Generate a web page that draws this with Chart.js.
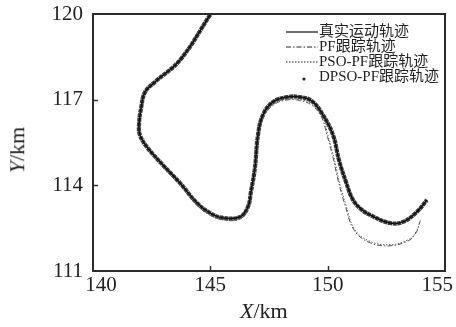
<!DOCTYPE html>
<html><head><meta charset="utf-8">
<script src="https://cdn.jsdelivr.net/npm/chart.js@4/dist/chart.umd.min.js"></script>
<style>
html,body{margin:0;padding:0;background:#fff;}
#wrap{position:relative;width:456px;height:327px;overflow:hidden;}
canvas{display:block;}
.ttl{position:absolute;font:22px "Liberation Serif","Times New Roman",serif;color:#222;white-space:nowrap;line-height:22px;}
</style>
</head><body>
<div id="wrap">
<canvas id="c" width="456" height="327"></canvas>
<div class="ttl" id="xt" style="left:240px;top:300px;"><i>X</i>/km</div>
<div class="ttl" id="yt" style="left:-6px;top:139px;transform:rotate(-90deg);transform-origin:center;"><i>Y</i>/km</div>
</div>
<script>
const xTicks = [140, 145, 150, 155];
const yTicks = [111, 114, 117, 120];
const seriesNames = ['真实运动轨迹', 'PF跟踪轨迹', 'PSO-PF跟踪轨迹', 'DPSO-PF跟踪轨迹'];

const trueX = [145.00,143.71,142.64,142.22,142.05,141.96,142.00,142.30,142.98,143.71,144.43,144.99,145.54,146.26,146.60,146.73,146.90,147.03,147.24,147.67,148.27,148.82,149.33,149.80,150.23,150.48,150.78,151.08,151.46,151.89,152.65,153.21,153.80,154.23];
const trueY = [119.98,118.39,117.62,117.27,116.71,116.11,115.76,115.34,114.71,114.08,113.38,113.03,112.86,112.89,113.24,113.77,114.61,115.76,116.46,116.92,117.09,117.09,116.95,116.46,115.76,114.89,114.12,113.49,113.14,112.93,112.68,112.72,113.07,113.49];

const pfX = [145.00,143.71,142.64,142.22,142.05,141.96,142.00,142.30,142.98,143.71,144.43,144.99,145.54,146.26,146.62,146.75,146.92,147.05,147.27,147.70,148.27,148.82,149.33,149.74,149.97,150.23,150.44,150.74,151.12,151.72,152.57,153.42,153.76,153.93];
const pfY = [119.98,118.39,117.62,117.27,116.71,116.11,115.76,115.34,114.71,114.08,113.31,112.95,112.79,112.82,113.20,113.77,114.61,115.76,116.40,116.82,116.99,116.97,116.80,116.38,115.76,114.96,114.19,113.31,112.44,112.02,111.88,112.05,112.33,112.72];

const psoX = [145.00,143.71,142.64,142.22,142.05,141.96,142.00,142.30,142.98,143.71,144.43,144.99,145.54,146.26,146.62,146.75,146.92,147.05,147.27,147.72,148.30,148.85,149.36,149.78,150.01,150.27,150.48,150.78,151.15,151.74,152.58,153.42,153.77,153.95];
const psoY = [119.98,118.39,117.62,117.27,116.71,116.11,115.76,115.34,114.71,114.08,113.33,112.97,112.80,112.84,113.22,113.77,114.61,115.76,116.42,116.86,117.02,117.00,116.84,116.40,115.76,114.96,114.19,113.31,112.46,112.06,111.92,112.09,112.38,112.78];

const dpsoX = [145.00,143.71,142.64,142.22,142.05,141.96,142.00,142.30,142.98,143.71,144.43,144.99,145.54,146.26,146.60,146.73,146.90,147.03,147.24,147.67,148.27,148.82,149.33,149.80,150.23,150.48,150.78,151.08,151.46,151.89,152.65,153.21,153.80,154.23];
const dpsoY = [119.98,118.39,117.62,117.27,116.71,116.11,115.76,115.34,114.71,114.08,113.38,113.03,112.86,112.89,113.24,113.77,114.61,115.76,116.46,116.92,117.09,117.09,116.95,116.46,115.76,114.89,114.12,113.49,113.14,112.93,112.68,112.72,113.07,113.49];

const pts = (xs, ys) => xs.map((x, i) => ({x, y: ys[i]}));

const FONT_SERIF = '"Liberation Serif", "Times New Roman", serif';

const framePlugin = {
  id: 'frame',
  afterDraw(chart) {
    const {ctx, chartArea: a, scales} = chart;
    ctx.save();
    ctx.strokeStyle = '#333';
    ctx.lineWidth = 1.5;
    ctx.beginPath();
    xTicks.slice(1, -1).forEach(v => {
      const px = Math.round(scales.x.getPixelForValue(v)) + 0.5;
      ctx.moveTo(px, a.bottom); ctx.lineTo(px, a.bottom - 5);
    });
    yTicks.slice(1, -1).forEach(v => {
      const py = Math.round(scales.y.getPixelForValue(v)) + 0.5;
      ctx.moveTo(a.left, py); ctx.lineTo(a.left + 5, py);
    });
    ctx.stroke();
    ctx.lineWidth = 2;
    ctx.strokeStyle = '#2b2b2b';
    ctx.strokeRect(a.left, a.top, a.right - a.left, a.bottom - a.top);
    const rows = [32, 47, 62, 77];
    const x0 = 286, x1 = 318, tx = 319;
    ctx.strokeStyle = '#222';
    ctx.lineWidth = 1.3;
    ctx.setLineDash([]);
    ctx.beginPath(); ctx.moveTo(x0, rows[0]); ctx.lineTo(x1, rows[0]); ctx.stroke();
    ctx.lineWidth = 1;
    ctx.setLineDash([5, 2, 1.5, 2]);
    ctx.beginPath(); ctx.moveTo(x0, rows[1]); ctx.lineTo(x1, rows[1]); ctx.stroke();
    ctx.setLineDash([1.5, 1.5]);
    ctx.beginPath(); ctx.moveTo(x0, rows[2]); ctx.lineTo(x1, rows[2]); ctx.stroke();
    ctx.setLineDash([]);
    ctx.fillStyle = '#222';
    ctx.beginPath(); ctx.arc(304, rows[3] + 2, 1.6, 0, Math.PI * 2); ctx.fill();
    ctx.font = '15px "Liberation Serif", "Noto Sans CJK SC", serif';
    ctx.textBaseline = 'middle';
    ctx.textAlign = 'left';
    seriesNames.forEach((n, i) => ctx.fillText(n, tx, rows[i]));
    ctx.restore();
  }
};

new Chart(document.getElementById('c'), {
  type: 'scatter',
  data: {
    datasets: [
      {label: seriesNames[0], data: pts(trueX, trueY), showLine: true, borderColor: '#111', borderWidth: 1.5, pointRadius: 0, tension: 0.4, fill: false},
      {label: seriesNames[1], data: pts(pfX, pfY), showLine: true, borderColor: '#555', borderWidth: 1, borderDash: [5, 2, 1.5, 2], pointRadius: 0, tension: 0.4, fill: false},
      {label: seriesNames[2], data: pts(psoX, psoY), showLine: true, borderColor: '#666', borderWidth: 1, borderDash: [1.5, 1.5], pointRadius: 0, tension: 0.4, fill: false},
      {label: seriesNames[3], data: pts(dpsoX, dpsoY), showLine: true, borderColor: 'rgba(35,35,35,0.88)', borderWidth: 4.2, borderDash: [4, 0.6], pointRadius: 0, tension: 0.4, fill: false}
    ]
  },
  options: {
    responsive: false,
    animation: false,
    devicePixelRatio: 1,
    layout: {padding: {left: 0, top: 14, right: 11, bottom: 0}},
    plugins: {legend: {display: false}, tooltip: {enabled: false}},
    scales: {
      x: {
        type: 'linear', min: 140, max: 155,
        afterBuildTicks: s => { s.ticks = xTicks.map(v => ({value: v})); },
        afterFit: s => { s.height = 56; s.paddingLeft = 0; s.paddingRight = 0; },
        grid: {display: false, drawTicks: false},
        border: {display: false},
        ticks: {
          padding: 2, color: '#222', maxRotation: 0, autoSkip: false,
          font: {family: FONT_SERIF, size: 21},
          callback: (v) => v === 140 ? '   140' : (v === 155 ? '155   ' : String(v))
        }
      },
      y: {
        type: 'linear', min: 111, max: 120,
        afterBuildTicks: s => { s.ticks = yTicks.map(v => ({value: v})); },
        afterFit: s => { s.width = 93; s.paddingTop = 0; s.paddingBottom = 0; },
        grid: {display: false, drawTicks: false},
        border: {display: false},
        ticks: {
          padding: 10, color: '#222', autoSkip: false,
          font: {family: FONT_SERIF, size: 21},
          callback: (v) => String(v)
        }
      }
    }
  },
  plugins: [framePlugin]
});
</script>
</body></html>
